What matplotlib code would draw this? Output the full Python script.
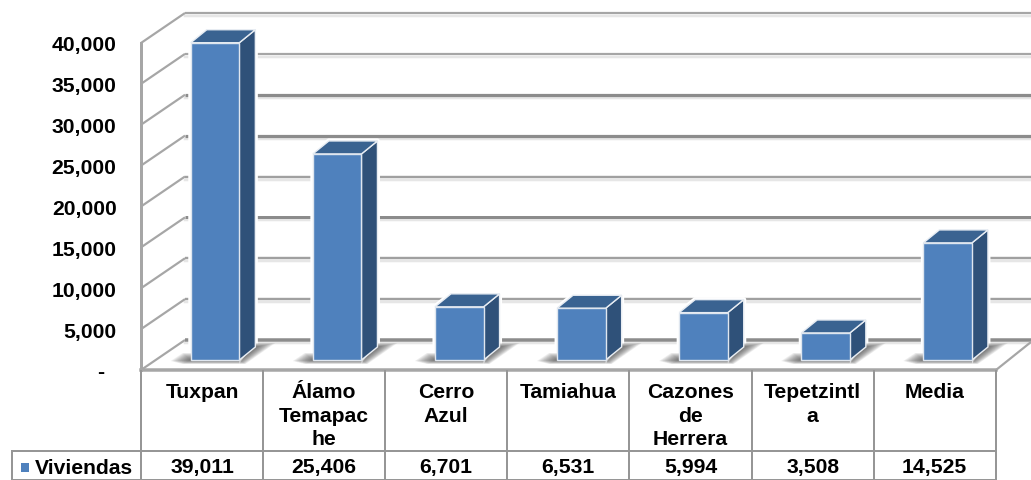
import matplotlib
matplotlib.use("Agg")
import matplotlib.pyplot as plt
from matplotlib.patches import Polygon, Rectangle

plt.rcParams['font.family'] = ['Liberation Sans', 'DejaVu Sans']

categories = ["Tuxpan", "Álamo\nTemapac\nhe", "Cerro\nAzul", "Tamiahua",
              "Cazones\nde\nHerrera", "Tepetzintl\na", "Media"]
values = [39011, 25406, 6701, 6531, 5994, 3508, 14525]
series_name = "Viviendas"
y_ticks = [0, 5000, 10000, 15000, 20000, 25000, 30000, 35000, 40000]
# visual weight of each back-wall gridline (px), as seen in the reference
grid_w = [3.5, 2.4, 2.4, 3.0, 2.4, 3.2, 3.2, 2.2, 2.2]
grid_c = ['#8c8c8c', '#a0a0a0', '#a0a0a0', '#8c8c8c', '#a0a0a0', '#8c8c8c', '#8c8c8c', '#a6a6a6', '#a6a6a6']

W, H = 1031, 480
X0, CELL = 141.0, 122.1
Y0, PX_PER = 370.0, 327.0 / 40000

def xd(px):
    return (px - X0) / CELL

def yd(py):
    return (Y0 - py) / PX_PER

fig = plt.figure(figsize=(W / 100, H / 100), dpi=100, facecolor='white')
ax = fig.add_axes([0, 0, 1, 1])
ax.set_xlim(xd(0), xd(W))
ax.set_ylim(yd(H), yd(0))
ax.axis('off')

GRID = '#a6a6a6'
LW = 0.72
TXT = dict(fontsize=15.2, fontweight='bold', color='black')
dx, dy = 44 / CELL, 30 / PX_PER      # wall depth

# floor
ax.add_patch(Polygon([(xd(141), yd(370)), (xd(996), yd(370)), (xd(1031), yd(342)),
                      (xd(1031), yd(340)), (xd(185), yd(340))], fc='white', ec='none', zorder=1))

# gridlines: side wall and back wall
for v, w, c in zip(y_ticks, grid_w, grid_c):
    ax.plot([xd(141), xd(141) + dx], [v, v + dy], color=GRID, lw=2.2 * LW, zorder=2, solid_capstyle='butt')
    ax.plot([xd(141) + dx, xd(W)], [v + dy - 3 / PX_PER] * 2, color='#e6e6e6', lw=2.5 * LW, zorder=1.5)
    ax.plot([xd(141) + dx, xd(W)], [v + dy] * 2, color=c, lw=w * LW, zorder=2, solid_capstyle='butt')

# left wall vertical, floor front edge, floor right edge
ax.plot([0, 0], [0, 40000], color=GRID, lw=3 * LW, zorder=3, solid_capstyle='projecting')
ax.plot([0, len(categories)], [0, 0], color=GRID, lw=3.5 * LW, zorder=3)
ax.plot([xd(996), xd(1031)], [0, yd(342)], color=GRID, lw=2.2 * LW, zorder=3)

# bars
HALF = 24.3 / CELL
SHIFT = 13 / CELL
BASE = 10 / PX_PER
bdx, bdy = 16 / CELL, 13 / PX_PER
FRONT, SIDE, TOP = '#4f81bd', '#2f5179', '#3a6391'
LAYERS = 12
for i, v in enumerate(values):
    cx = i + 0.5 + SHIFT
    l, r = cx - HALF, cx + HALF
    b, t = BASE, BASE + v - 1000 * 0.2
    # white halo
    outline = [(l, b), (r, b), (r + bdx, b + bdy), (r + bdx, t + bdy), (l + bdx, t + bdy), (l, t)]
    ax.add_patch(Polygon(outline, fc='white', ec='white', lw=5 * LW, zorder=3.2, joinstyle='round'))
    # soft floor shadow, stacked layers that darken towards the bar base
    for s in range(LAYERS):
        k = 1 - s / LAYERS
        ax.add_patch(Polygon([(r, b - 4 * k / PX_PER), (r + k * 6 / CELL, b - 4 * k / PX_PER),
                              (r + bdx + k * 20 / CELL, b + bdy + 4 * k / PX_PER), (r + bdx, b + bdy + 4 * k / PX_PER)],
                             fc='#3c3c3c', ec='none', alpha=0.085, zorder=3.5))
        ax.add_patch(Polygon([(l - k * 20 / CELL, b - 1 * k / PX_PER), (l - k * 8 / CELL, b + 7 * k / PX_PER),
                              (l + 1 / CELL, b + 7 * k / PX_PER), (r, b + 4 / PX_PER), (r, b - 4 * k / PX_PER), (l - k * 8 / CELL, b - 4 * k / PX_PER)],
                             fc='#3c3c3c', ec='none', alpha=0.085, zorder=3.5))
    ax.add_patch(Polygon([(r, b), (r + bdx, b + bdy), (r + bdx, t + bdy), (r, t)],
                         fc=SIDE, ec='#e8edf3', lw=1.4 * LW, zorder=5))
    ax.add_patch(Polygon([(l, t), (r, t), (r + bdx, t + bdy), (l + bdx, t + bdy)],
                         fc=TOP, ec='#e8edf3', lw=1.4 * LW, zorder=5))
    ax.add_patch(Rectangle((l, b), r - l, t - b, fc=FRONT, ec='#dfe6ef', lw=1.4 * LW, zorder=6))

# y tick labels
for v in y_ticks:
    if v == 0:
        ax.text(xd(104.5), yd(372), "-", ha='right', va='center', zorder=8, **TXT)
    else:
        ax.text(xd(116.5), v - 3 / PX_PER, f"{v:,}", ha='right', va='center', zorder=8, **TXT)

# data table
n = len(categories)
TAB = '#969696'
ROW_Y, BOT_Y, LEFT = 451, 479.5, 12
for j in range(n + 1):
    ax.plot([j, j], [0, yd(BOT_Y)], color=TAB, lw=2 * LW, zorder=7, solid_capstyle='butt')
ax.plot([xd(LEFT), n], [yd(ROW_Y)] * 2, color=TAB, lw=2 * LW, zorder=7)
ax.plot([xd(LEFT), n], [yd(BOT_Y)] * 2, color=TAB, lw=2 * LW, zorder=7)
ax.plot([xd(LEFT)] * 2, [yd(ROW_Y), yd(BOT_Y)], color=TAB, lw=2 * LW, zorder=7)

for i, (c, v) in enumerate(zip(categories, values)):
    ax.text(i + 0.5, yd(383), c, ha='center', va='top', linespacing=1.3, zorder=8, **TXT)
    ax.text(i + 0.5, yd(468), f"{v:,}", ha='center', va='center', zorder=8, **TXT)

ax.text(xd(35), yd(468), series_name, ha='left', va='center', zorder=8, **TXT)
ax.add_patch(Rectangle((xd(21), yd(472)), 8 / CELL, 9 / PX_PER, fc=FRONT, ec='none', zorder=8))

fig.savefig("out.png", dpi=100, facecolor='white')
